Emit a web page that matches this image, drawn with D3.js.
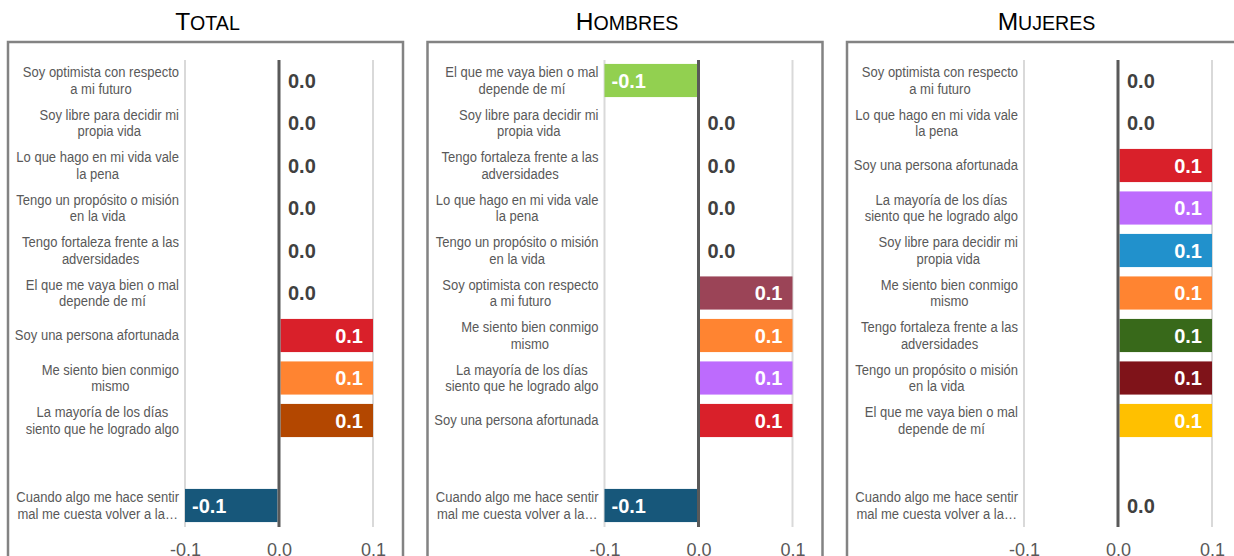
<!DOCTYPE html>
<html><head><meta charset="utf-8">
<script src="https://cdn.jsdelivr.net/npm/d3@7"></script>
<style>body{margin:0;background:#fff;}svg{display:block;}</style>
</head><body><svg id="c" width="1234" height="556"></svg>
<script>
const titles = ["Total", "Hombres", "Mujeres"];
const tickValues = [-0.1, 0.0, 0.1];

const categoriesTotal = [
  "Soy optimista con respecto\na mi futuro",
  "Soy libre para decidir mi\npropia vida",
  "Lo que hago en mi vida vale\nla pena",
  "Tengo un propósito o misión\nen la vida",
  "Tengo fortaleza frente a las\nadversidades",
  "El que me vaya bien o mal\ndepende de mí",
  "Soy una persona afortunada",
  "Me siento bien conmigo\nmismo",
  "La mayoría de los días\nsiento que he logrado algo",
  "",
  "Cuando algo me hace sentir\nmal me cuesta volver a la…"
];
const valuesTotal = [0.0, 0.0, 0.0, 0.0, 0.0, 0.0, 0.1, 0.1, 0.1, null, -0.1];
const colorsTotal = ["#808080","#808080","#808080","#808080","#808080","#808080","#d9202a","#ff8431","#b34700",null,"#17577a"];

const categoriesHombres = [
  "El que me vaya bien o mal\ndepende de mí",
  "Soy libre para decidir mi\npropia vida",
  "Tengo fortaleza frente a las\nadversidades",
  "Lo que hago en mi vida vale\nla pena",
  "Tengo un propósito o misión\nen la vida",
  "Soy optimista con respecto\na mi futuro",
  "Me siento bien conmigo\nmismo",
  "La mayoría de los días\nsiento que he logrado algo",
  "Soy una persona afortunada",
  "",
  "Cuando algo me hace sentir\nmal me cuesta volver a la…"
];
const valuesHombres = [-0.1, 0.0, 0.0, 0.0, 0.0, 0.1, 0.1, 0.1, 0.1, null, -0.1];
const colorsHombres = ["#92d050","#808080","#808080","#808080","#808080","#9b4457","#ff8431","#bd6bfd","#d9202a",null,"#17577a"];

const categoriesMujeres = [
  "Soy optimista con respecto\na mi futuro",
  "Lo que hago en mi vida vale\nla pena",
  "Soy una persona afortunada",
  "La mayoría de los días\nsiento que he logrado algo",
  "Soy libre para decidir mi\npropia vida",
  "Me siento bien conmigo\nmismo",
  "Tengo fortaleza frente a las\nadversidades",
  "Tengo un propósito o misión\nen la vida",
  "El que me vaya bien o mal\ndepende de mí",
  "",
  "Cuando algo me hace sentir\nmal me cuesta volver a la…"
];
const valuesMujeres = [0.0, 0.0, 0.1, 0.1, 0.1, 0.1, 0.1, 0.1, 0.1, null, 0.0];
const colorsMujeres = ["#808080","#808080","#d9202a","#bd6bfd","#2191cc","#ff8431","#38691a","#7f1319","#ffc000",null,"#808080"];

const panels = [
  {title: titles[0], cats: categoriesTotal, vals: valuesTotal, cols: colorsTotal},
  {title: titles[1], cats: categoriesHombres, vals: valuesHombres, cols: colorsHombres},
  {title: titles[2], cats: categoriesMujeres, vals: valuesMujeres, cols: colorsMujeres}
];

const svg = d3.select("#c");
const panelW = 395, panelStep = 419.5, panelLeft = 8, panelTop = 42;
const labelFont = "'Liberation Sans',Arial,sans-serif";
const narrow = 0.84;

panels.forEach((p, i) => {
  const x0 = panelLeft + i * panelStep;
  const g = svg.append("g");

  // panel frame
  g.append("rect").attr("x", x0).attr("y", panelTop).attr("width", panelW).attr("height", 540)
    .attr("fill", "none").attr("stroke", "#838383").attr("stroke-width", 2.5);

  // title (small caps)
  const t = g.append("text").attr("x", x0 + panelW / 2 + 2).attr("y", 30)
    .attr("text-anchor", "middle").attr("fill", "#000")
    .style("font-family", "'Liberation Sans',Arial,sans-serif");
  t.append("tspan").style("font-size", "24.5px").text(p.title[0].toUpperCase());
  t.append("tspan").style("font-size", "19.6px").text(p.title.slice(1).toUpperCase());

  const x = d3.scaleLinear().domain([-0.1, 0.1]).range([x0 + 177, x0 + 365]);
  const y = d3.scaleBand().domain(d3.range(p.cats.length)).range([59.25, 526.75])
    .paddingInner(0.22).paddingOuter(0.11);

  const top = 60, bottom = 527;
  // gridlines
  g.selectAll(".grid").data([-0.1, 0.1]).join("line")
    .attr("x1", d => x(d)).attr("x2", d => x(d)).attr("y1", top).attr("y2", bottom)
    .attr("stroke", "#d9d9d9").attr("stroke-width", 2);

  const rows = p.cats.map((c, j) => ({c, v: p.vals[j], col: p.cols[j], j}));

  // bars
  g.selectAll(".bar").data(rows.filter(d => d.v !== null && d.v !== 0)).join("rect")
    .attr("x", d => Math.min(x(0), x(d.v)) + (d.v > 0 ? 1.5 : 0))
    .attr("width", d => Math.abs(x(d.v) - x(0)) - 1.5)
    .attr("y", d => y(d.j)).attr("height", y.bandwidth())
    .attr("fill", d => d.col);

  // zero line
  g.append("line").attr("x1", x(0)).attr("x2", x(0)).attr("y1", top).attr("y2", bottom)
    .attr("stroke", "#595959").attr("stroke-width", 3);

  // value labels
  g.selectAll(".val").data(rows.filter(d => d.v !== null)).join("text")
    .attr("x", d => d.v > 0 ? x(d.v) - 10 : d.v < 0 ? x(d.v) + 7 : x(0) + 9)
    .attr("y", d => y(d.j) + y.bandwidth() / 2 + 7)
    .attr("text-anchor", d => d.v > 0 ? "end" : "start")
    .attr("fill", d => d.v === 0 ? "#404040" : "#ffffff")
    .style("font-family", "'Liberation Sans',Arial,sans-serif")
    .style("font-weight", "bold").style("font-size", "20px")
    .text(d => d.v.toFixed(1));

  // category labels (condensed horizontally)
  const right = x0 + 171;
  const lab = g.selectAll(".cat").data(rows.filter(d => d.c !== "")).join("text")
    .attr("text-anchor", "middle")
    .attr("transform", `translate(${right},0) scale(${narrow},1)`)
    .attr("fill", "#595959")
    .style("font-family", labelFont).style("font-size", "15.5px");
  lab.each(function(d) {
    const lines = d.c.split("\n");
    const cy = y(d.j) + y.bandwidth() / 2;
    const lh = 16.5;
    const el = d3.select(this);
    const first = cy - (lines.length - 1) * lh / 2 + 5;
    lines.forEach((ln, k) => {
      el.append("tspan").attr("y", first + k * lh).text(ln);
    });
    const widths = [];
    el.selectAll("tspan").each(function() { widths.push(this.getComputedTextLength()); });
    const maxW = d3.max(widths);
    el.selectAll("tspan").attr("x", -maxW / 2);
  });

  // x axis
  const ax = g.append("g").attr("transform", `translate(0,${bottom})`)
    .call(d3.axisBottom(x).tickValues(tickValues).tickFormat(d => d.toFixed(1)).tickSize(0).tickPadding(16));
  ax.select(".domain").remove();
  ax.selectAll("text").attr("fill", "#595959")
    .style("font-family", "'Liberation Sans',Arial,sans-serif").style("font-size", "18px");
});
</script></body></html>
